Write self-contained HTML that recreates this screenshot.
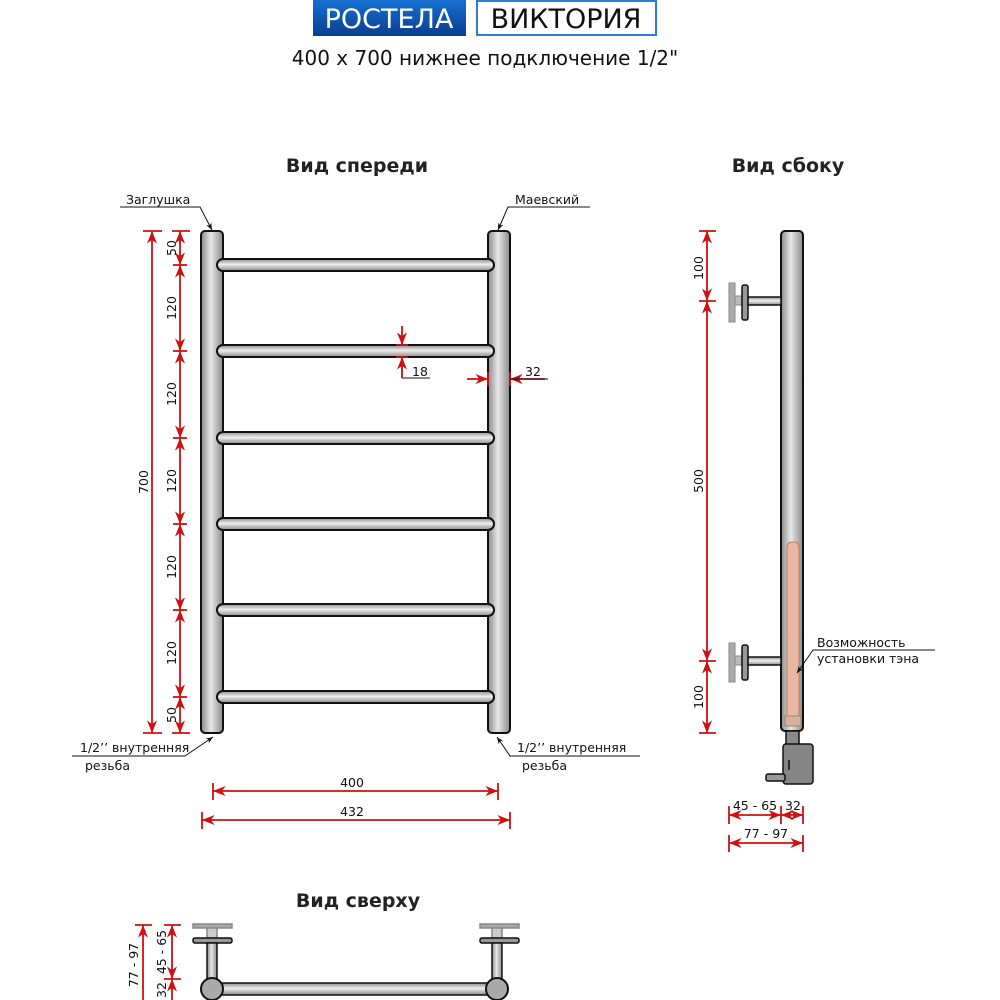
<!DOCTYPE html>
<html><head><meta charset="utf-8"><style>
html,body{margin:0;padding:0;background:#fff;}
svg{display:block;}
text{font-family:"DejaVu Sans","Liberation Sans",sans-serif;fill:#111;}
</style></head><body>
<svg width="1000" height="1000" viewBox="0 0 1000 1000" xmlns="http://www.w3.org/2000/svg">
<defs>
<linearGradient id="gv" x1="0" x2="1" y1="0" y2="0">
<stop offset="0" stop-color="#8a8a8a"/><stop offset="0.45" stop-color="#e8e8e8"/><stop offset="1" stop-color="#8a8a8a"/></linearGradient>
<linearGradient id="gh" x1="0" x2="0" y1="0" y2="1">
<stop offset="0" stop-color="#8a8a8a"/><stop offset="0.45" stop-color="#eeeeee"/><stop offset="1" stop-color="#8a8a8a"/></linearGradient>
<linearGradient id="gb" x1="0" x2="0" y1="0" y2="1"><stop offset="0" stop-color="#1670d0"/><stop offset="1" stop-color="#0a3e8f"/></linearGradient>
<marker id="a" viewBox="0 0 10 10" refX="10" refY="5" markerWidth="7" markerHeight="7" orient="auto-start-reverse"><path d="M0,1 L10,5 L0,9 L3,5z" fill="#d01010"/></marker>
<marker id="k" viewBox="0 0 10 10" refX="10" refY="5" markerWidth="7" markerHeight="7" orient="auto"><path d="M0,1 L10,5 L0,9 L3,5z" fill="#111"/></marker>
</defs>

<!-- header -->
<rect x="313" y="0" width="153" height="36" fill="url(#gb)"/>
<text x="389" y="28" font-size="27" text-anchor="middle" style="fill:#fff">РОСТЕЛА</text>
<rect x="477" y="1" width="179" height="34" fill="#fff" stroke="#2a7fd0" stroke-width="2"/>
<text x="566" y="28" font-size="27" text-anchor="middle">ВИКТОРИЯ</text>
<text x="485" y="65" font-size="20" text-anchor="middle">400 x 700 нижнее подключение 1/2"</text>

<text x="357" y="172" font-size="19" font-weight="bold" text-anchor="middle" style="fill:#222">Вид спереди</text>
<text x="788" y="172" font-size="19" font-weight="bold" text-anchor="middle" style="fill:#222">Вид сбоку</text>
<text x="358" y="907" font-size="19" font-weight="bold" text-anchor="middle" style="fill:#222">Вид сверху</text>

<g stroke="#111" stroke-width="2">
<rect x="201" y="231" width="22" height="502" rx="4" fill="url(#gv)"/>
<rect x="488" y="231" width="22" height="502" rx="4" fill="url(#gv)"/>
<g fill="url(#gh)">
<rect x="217" y="259" width="277" height="12" rx="6"/>
<rect x="217" y="345" width="277" height="12" rx="6"/>
<rect x="217" y="432" width="277" height="12" rx="6"/>
<rect x="217" y="518" width="277" height="12" rx="6"/>
<rect x="217" y="604" width="277" height="12" rx="6"/>
<rect x="217" y="691" width="277" height="12" rx="6"/>
</g>
</g>

<g stroke="#d01010" stroke-width="1.8" fill="none">
<line x1="152" y1="231" x2="152" y2="733" marker-start="url(#a)" marker-end="url(#a)"/>
<line x1="143" y1="231" x2="162" y2="231"/><line x1="143" y1="733" x2="162" y2="733"/>
<line x1="172" y1="231" x2="190" y2="231"/><line x1="172" y1="733" x2="190" y2="733"/>
<line x1="180" y1="231" x2="180" y2="265" marker-start="url(#a)" marker-end="url(#a)"/>
<line x1="180" y1="265" x2="180" y2="351" marker-start="url(#a)" marker-end="url(#a)"/>
<line x1="180" y1="351" x2="180" y2="438" marker-start="url(#a)" marker-end="url(#a)"/>
<line x1="180" y1="438" x2="180" y2="524" marker-start="url(#a)" marker-end="url(#a)"/>
<line x1="180" y1="524" x2="180" y2="610" marker-start="url(#a)" marker-end="url(#a)"/>
<line x1="180" y1="610" x2="180" y2="697" marker-start="url(#a)" marker-end="url(#a)"/>
<line x1="180" y1="697" x2="180" y2="733" marker-start="url(#a)" marker-end="url(#a)"/>
<g><line x1="173" y1="265" x2="187" y2="265"/><line x1="173" y1="351" x2="187" y2="351"/><line x1="173" y1="438" x2="187" y2="438"/><line x1="173" y1="524" x2="187" y2="524"/><line x1="173" y1="610" x2="187" y2="610"/><line x1="173" y1="697" x2="187" y2="697"/></g>
<line x1="402" y1="326" x2="402" y2="345" marker-end="url(#a)"/>
<line x1="402" y1="378" x2="402" y2="357" marker-end="url(#a)"/>
<line x1="396" y1="345" x2="408" y2="345"/><line x1="396" y1="357" x2="408" y2="357"/>
<line x1="467" y1="379" x2="488" y2="379" marker-end="url(#a)"/>
<line x1="545" y1="379" x2="510" y2="379" marker-end="url(#a)"/>
<line x1="488" y1="372" x2="488" y2="386"/><line x1="510" y1="372" x2="510" y2="386"/>
<line x1="213" y1="791" x2="498" y2="791" marker-start="url(#a)" marker-end="url(#a)"/>
<line x1="213" y1="783" x2="213" y2="800"/><line x1="498" y1="783" x2="498" y2="800"/>
<line x1="202" y1="820" x2="510" y2="820" marker-start="url(#a)" marker-end="url(#a)"/>
<line x1="202" y1="812" x2="202" y2="829"/><line x1="510" y1="812" x2="510" y2="829"/>
</g>
<g stroke="#111" stroke-width="1" fill="none">
<line x1="402" y1="378" x2="430" y2="378"/>
<line x1="510" y1="379" x2="548" y2="379"/>
</g>
<g font-size="12.5" text-anchor="middle">
<text transform="translate(176,248) rotate(-90)">50</text>
<text transform="translate(176,308) rotate(-90)">120</text>
<text transform="translate(176,394) rotate(-90)">120</text>
<text transform="translate(176,481) rotate(-90)">120</text>
<text transform="translate(176,567) rotate(-90)">120</text>
<text transform="translate(176,653) rotate(-90)">120</text>
<text transform="translate(176,715) rotate(-90)">50</text>
<text transform="translate(148,482) rotate(-90)">700</text>
<text x="420" y="376">18</text>
<text x="533" y="376">32</text>
<text x="352" y="787">400</text>
<text x="352" y="816">432</text>
</g>

<g stroke="#111" stroke-width="1" fill="none">
<polyline points="120,207 200,207 212,230" marker-end="url(#k)"/>
<polyline points="590,207 508,207 498,230" marker-end="url(#k)"/>
<polyline points="72,756 185,756 213,737" marker-end="url(#k)"/>
<polyline points="640,756 510,756 497,737" marker-end="url(#k)"/>
</g>
<g font-size="12.5">
<text x="126" y="204">Заглушка</text>
<text x="515" y="204">Маевский</text>
<text x="80" y="752">1/2’’ внутренняя</text>
<text x="85" y="770">резьба</text>
<text x="517" y="752">1/2’’ внутренняя</text>
<text x="522" y="770">резьба</text>
</g>

<!-- side view -->
<g stroke="#111" stroke-width="2">
<rect x="781" y="231" width="22" height="500" rx="4" fill="url(#gv)"/>
</g>
<rect x="787" y="542" width="12" height="180" rx="5" fill="#e8b8a0" stroke="#c08060" stroke-width="1"/>
<rect x="785" y="716" width="16" height="10" fill="#d8b0a0" stroke="#a08070" stroke-width="1"/>
<g stroke="#111" stroke-width="1.5">
<rect x="786" y="731" width="13" height="14" fill="#8a8a8a"/>
<rect x="783" y="744" width="30" height="40" rx="3" fill="#858585"/>
<rect x="766" y="774" width="19" height="7" rx="2" fill="#999"/>
<line x1="789" y1="760" x2="789" y2="770"/>
</g>
<g>
<rect x="729" y="283" width="6" height="39" fill="#aaa" stroke="#888"/>
<rect x="735" y="296" width="10" height="9" fill="#bbb" stroke="#888"/>
<rect x="742" y="285" width="6" height="35" rx="2" fill="#999" stroke="#111" stroke-width="1.5"/>
<rect x="748" y="297" width="33" height="8" fill="url(#gh)" stroke="#111" stroke-width="1.5"/>
<rect x="729" y="643" width="6" height="39" fill="#aaa" stroke="#888"/>
<rect x="735" y="656" width="10" height="9" fill="#bbb" stroke="#888"/>
<rect x="742" y="645" width="6" height="35" rx="2" fill="#999" stroke="#111" stroke-width="1.5"/>
<rect x="748" y="657" width="33" height="8" fill="url(#gh)" stroke="#111" stroke-width="1.5"/>
</g>
<g stroke="#d01010" stroke-width="1.8" fill="none">
<line x1="707" y1="231" x2="707" y2="301" marker-start="url(#a)" marker-end="url(#a)"/>
<line x1="707" y1="301" x2="707" y2="661" marker-start="url(#a)" marker-end="url(#a)"/>
<line x1="707" y1="661" x2="707" y2="733" marker-start="url(#a)" marker-end="url(#a)"/>
<line x1="699" y1="231" x2="716" y2="231"/><line x1="699" y1="301" x2="716" y2="301"/><line x1="699" y1="661" x2="716" y2="661"/><line x1="699" y1="733" x2="716" y2="733"/>
<line x1="729" y1="815" x2="781" y2="815" marker-start="url(#a)" marker-end="url(#a)"/>
<line x1="781" y1="815" x2="803" y2="815" marker-start="url(#a)" marker-end="url(#a)"/>
<line x1="729" y1="806" x2="729" y2="824"/><line x1="781" y1="806" x2="781" y2="824"/><line x1="803" y1="806" x2="803" y2="824"/>
<line x1="729" y1="843" x2="803" y2="843" marker-start="url(#a)" marker-end="url(#a)"/>
<line x1="729" y1="835" x2="729" y2="852"/><line x1="803" y1="835" x2="803" y2="852"/>
</g>
<g font-size="12.5" text-anchor="middle">
<text transform="translate(703,268) rotate(-90)">100</text>
<text transform="translate(703,481) rotate(-90)">500</text>
<text transform="translate(703,697) rotate(-90)">100</text>
<text x="755" y="810">45 - 65</text>
<text x="793" y="810">32</text>
<text x="766" y="838">77 - 97</text>
</g>
<polyline points="935,650 813,650 797,673" stroke="#111" stroke-width="1" fill="none" marker-end="url(#k)"/>
<g font-size="12.5"><text x="817" y="647">Возможность</text><text x="817" y="663">установки тэна</text></g>

<!-- top view -->
<g stroke="#111" stroke-width="1.5">
<rect x="193" y="924" width="39" height="4" fill="#aaa" stroke="#888"/>
<rect x="207" y="928" width="10" height="10" fill="#ccc" stroke="#888"/>
<rect x="193" y="938" width="39" height="5" rx="2" fill="#999"/>
<rect x="207" y="943" width="10" height="38" fill="url(#gv)"/>
<rect x="480" y="924" width="39" height="4" fill="#aaa" stroke="#888"/>
<rect x="492" y="928" width="10" height="10" fill="#ccc" stroke="#888"/>
<rect x="480" y="938" width="39" height="5" rx="2" fill="#999"/>
<rect x="492" y="943" width="10" height="38" fill="url(#gv)"/>
<rect x="212" y="983" width="285" height="12" fill="url(#gh)"/>
<circle cx="212" cy="989" r="11" fill="#aaa" stroke-width="2"/>
<circle cx="497" cy="989" r="11" fill="#aaa" stroke-width="2"/>
</g>
<g stroke="#d01010" stroke-width="1.8" fill="none">
<line x1="143" y1="925" x2="143" y2="1000" marker-start="url(#a)"/>
<line x1="172" y1="925" x2="172" y2="979" marker-start="url(#a)" marker-end="url(#a)"/>
<line x1="172" y1="979" x2="172" y2="1000" marker-start="url(#a)"/>
<line x1="135" y1="925" x2="152" y2="925"/><line x1="164" y1="925" x2="181" y2="925"/><line x1="164" y1="979" x2="181" y2="979"/>
</g>
<g font-size="12.5" text-anchor="middle">
<text transform="translate(138,965) rotate(-90)">77 - 97</text>
<text transform="translate(166,952) rotate(-90)">45 - 65</text>
<text transform="translate(166,990) rotate(-90)">32</text>
</g>
</svg>
</body></html>
